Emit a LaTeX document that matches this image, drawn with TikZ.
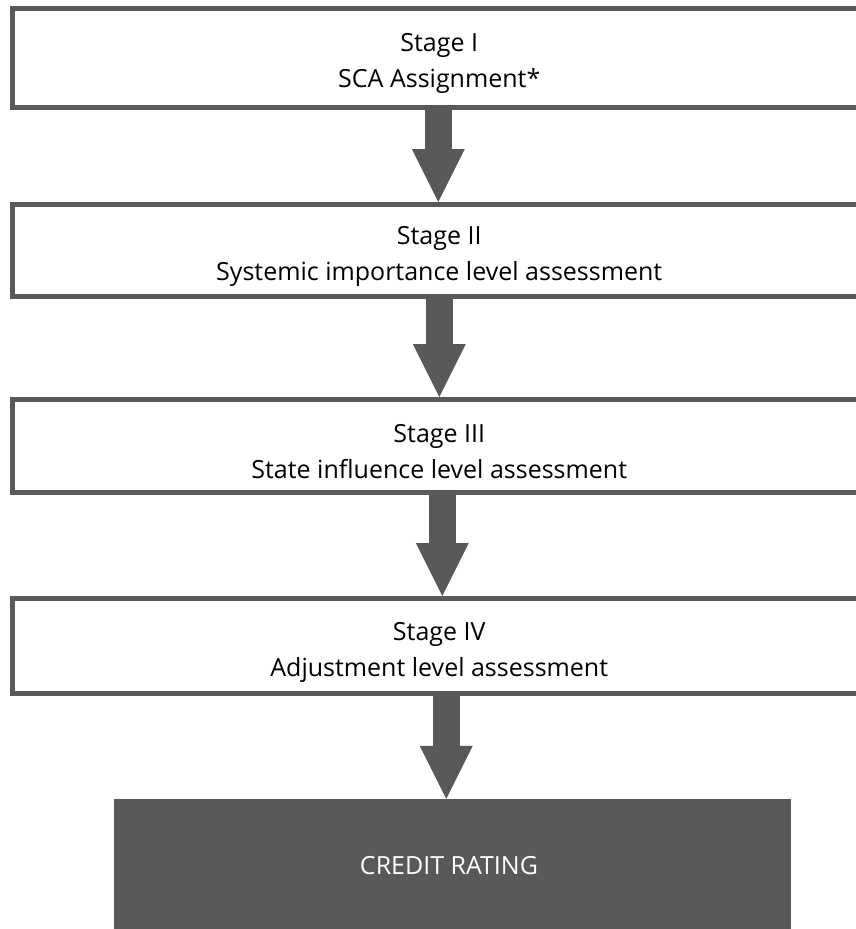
\documentclass[tikz,border=0pt]{standalone}
\usepackage{fontspec}
\setmainfont{Open Sans}
\usetikzlibrary{arrows.meta}
\definecolor{boxgray}{HTML}{595959}
\tikzstyle{stagebox} = [rectangle, draw=boxgray, line width=5pt, fill=white, minimum width=853.5pt, minimum height=94pt, inner sep=0pt, align=center, font=\fontsize{25}{36}\selectfont]
\tikzstyle{ratingbox} = [rectangle, fill=boxgray, text=white, minimum width=677pt, minimum height=134pt, inner sep=0pt, font=\fontsize{25}{36}\selectfont]
\tikzstyle{flow} = [line width=27pt, draw=boxgray, -{Triangle[width=53pt,length=53pt,line width=0pt]}]
\newcommand{\stagetext}[2]{\rule{0pt}{30pt}#1\\#2}

\begin{document}
\begin{tikzpicture}[x=1pt,y=1pt]
	\clip (0,0) rectangle (856,-929);
	\node [stagebox, minimum height=99pt] (st1) at (439.25,-58) {\stagetext{Stage I}{SCA Assignment*}};
	\node [stagebox, minimum height=92pt] (st2) at (439.25,-250.5) {\stagetext{Stage II}{Systemic importance level assessment}};
	\node [stagebox, minimum height=93pt] (st3) at (439.25,-446) {\stagetext{Stage III}{State influence level assessment}};
	\node [stagebox, minimum height=95pt] (st4) at (439.25,-646) {\stagetext{Stage IV}{Adjustment level assessment}};
	\node [ratingbox] (rt) at (452.5,-866) {\hspace*{-7pt}CREDIT RATING};
	\coordinate (a1) at ([xshift=-1pt]st1.south);
	\coordinate (a2) at ([xshift=0pt]st2.south);
	\coordinate (a3) at ([xshift=3pt]st3.south);
	\coordinate (a4) at ([xshift=7pt]st4.south);
	\draw [flow] (a1) -- (a1 |- st2.north);
	\draw [flow] (a2) -- (a2 |- st3.north);
	\draw [flow] (a3) -- (a3 |- st4.north);
	\draw [flow] (a4) -- (a4 |- rt.north);
\end{tikzpicture}
\end{document}
